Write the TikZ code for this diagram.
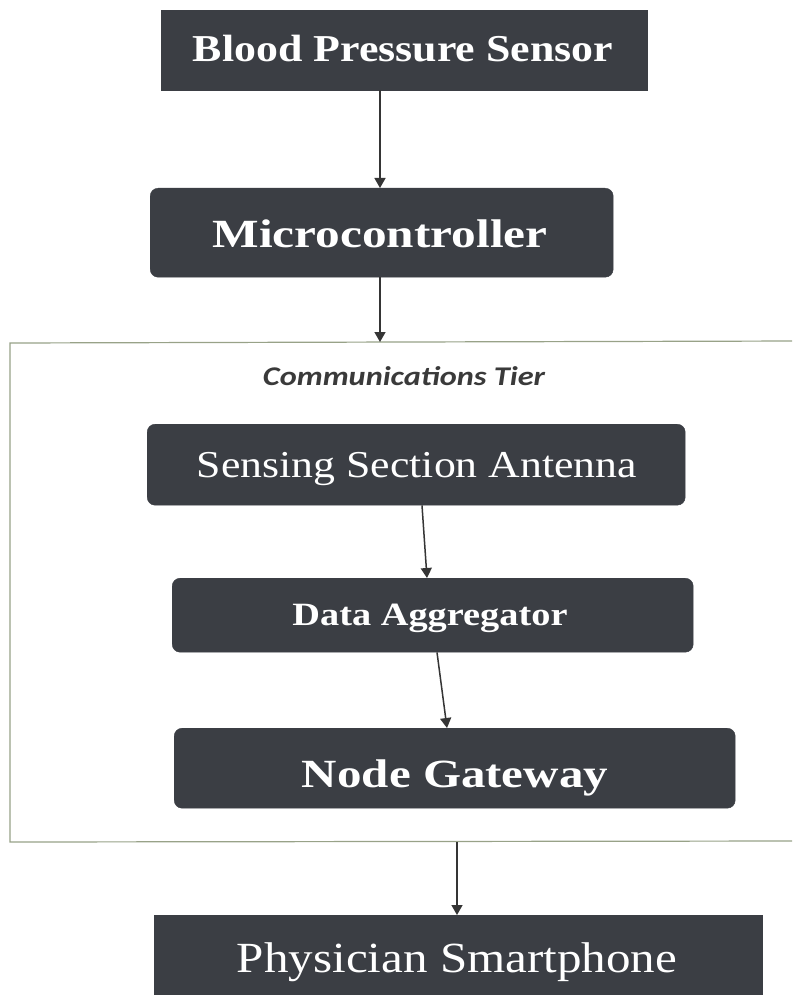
\documentclass[tikz,border=0pt]{standalone}
\usepackage{graphicx}
\usepackage{fontspec}
\setmainfont{Liberation Serif}
\newfontfamily\tierfont{Carlito}
\usetikzlibrary{arrows.meta}
\definecolor{boxfill}{HTML}{3B3E44}
\definecolor{framecol}{HTML}{98A288}
\definecolor{arrcol}{HTML}{353535}
\definecolor{tiercol}{HTML}{3A3A3A}
\tikzset{
  box/.style={draw=boxfill, fill=boxfill, inner sep=0pt, anchor=north west},
  roundbox/.style={box, rounded corners=8pt},
  label/.style={text=white, anchor=base, inner sep=0pt},
  arr/.style={draw=arrcol, line width=1.5pt, -{Triangle[width=11pt,length=10pt]}},
  tierframe/.style={draw=framecol, line width=1.2pt}
}
\newcommand{\fitw}[3]{\resizebox{#1pt}{\height}{\fontsize{#2}{#2}\selectfont #3}}
\begin{document}
\begin{tikzpicture}[x=1pt,y=-1pt]
\clip (0,0) rectangle (792,995);
\fill[white] (0,0) rectangle (792,995);

% frame of the communications tier
\draw[tierframe] (800,341) -- (10,343) -- (10,842) -- (800,841);
\node[text=tiercol, anchor=base, inner sep=0pt] (tier) at (404,385)
  {\fitw{282}{27}{\tierfont\bfseries\itshape Communications Tier}};

% boxes
\node[box, minimum width=486pt, minimum height=80pt] (bps) at (161,10) {};
\node[label] (bpsT) at (403,62) {\fitw{420}{38}{\bfseries Blood Pressure Sensor}};

\node[roundbox, minimum width=463pt, minimum height=89pt] (mc) at (150,188) {};
\node[label] (mcT) at (380,247) {\fitw{335}{40}{\bfseries Microcontroller}};

\node[roundbox, minimum width=538pt, minimum height=81pt] (ssa) at (147,424) {};
\node[label] (ssaT) at (417,477) {\fitw{440}{38}{Sensing Section Antenna}};

\node[roundbox, minimum width=521pt, minimum height=74pt] (da) at (172,578) {};
\node[label] (daT) at (430,625) {\fitw{275}{32.5}{\bfseries Data Aggregator}};

\node[roundbox, minimum width=561pt, minimum height=80pt] (ng) at (174,728) {};
\node[label] (ngT) at (455,787) {\fitw{306}{40}{\bfseries Node Gateway}};

\node[box, minimum width=608pt, minimum height=90pt] (ps) at (154,915) {};
\node[label] (psT) at (457,972) {\fitw{440}{43}{Physician Smartphone}};

% connector helpers
\coordinate (c1) at (380,0);
\coordinate (ftop) at (380,342);
\coordinate (fbot) at (457,842);
\coordinate (s1) at (422,0);
\coordinate (s2) at (427,0);
\coordinate (d1) at (437,0);
\coordinate (d2) at (447,0);
\coordinate (p1) at (457,0);

% connectors
\draw[arr] (bps.south -| c1) -- (mc.north -| c1);
\draw[arr] (mc.south -| c1) -- (ftop);
\draw[arr] (ssa.south -| s1) -- (da.north -| s2);
\draw[arr] (da.south -| d1) -- (ng.north -| d2);
\draw[arr] (fbot) -- (ps.north -| p1);
\end{tikzpicture}
\end{document}
